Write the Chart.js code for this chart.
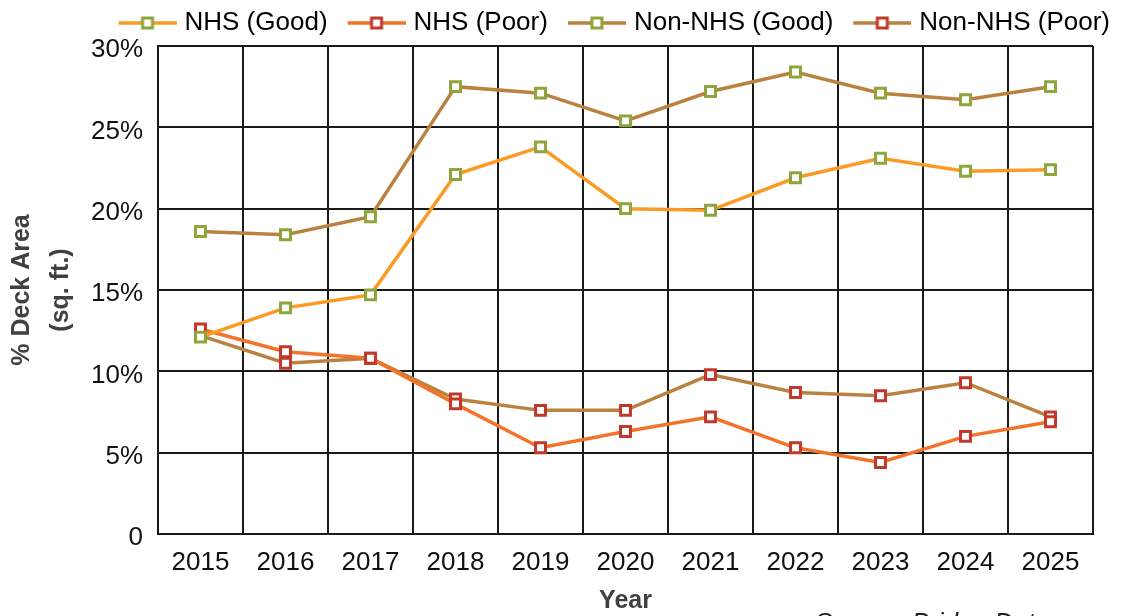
<!DOCTYPE html>
<html>
<head>
<meta charset="utf-8">
<script src="https://cdn.jsdelivr.net/npm/chart.js@4.4.1/dist/chart.umd.min.js"></script>
<style>
  body { margin: 0; background: #fff; }
  #wrap { width: 1126px; height: 616px; }
</style>
</head>
<body>
<div id="wrap"><canvas id="deck-chart" width="1126" height="616"></canvas></div>
<script>
// Chart data
const years = ['2015', '2016', '2017', '2018', '2019', '2020', '2021', '2022', '2023', '2024', '2025'];
const nhsGood = [12.1, 13.9, 14.7, 22.1, 23.8, 20.0, 19.9, 21.9, 23.1, 22.3, 22.4];
const nhsPoor = [12.6, 11.2, 10.8, 8.0, 5.3, 6.3, 7.2, 5.3, 4.4, 6.0, 6.9];
const nonNhsGood = [18.6, 18.4, 19.5, 27.5, 27.1, 25.4, 27.2, 28.4, 27.1, 26.7, 27.5];
const nonNhsPoor = [12.2, 10.5, 10.8, 8.3, 7.6, 7.6, 9.8, 8.7, 8.5, 9.3, 7.2];
const yTicks = [0, 5, 10, 15, 20, 25, 30];

const FONT = "'Liberation Sans', Arial, sans-serif";
const GREEN = '#8da53a';
const RED = '#c0392b';

// little line + square icon for the legend
function makeLegendIcon(lineColor, markerColor) {
    const c = document.createElement('canvas');
    c.width = 73;
    c.height = 16;
    const g = c.getContext('2d');
    g.strokeStyle = lineColor;
    g.lineWidth = 3.5;
    g.beginPath();
    g.moveTo(15, 8);
    g.lineTo(73, 8);
    g.stroke();
    g.fillStyle = '#fff';
    g.fillRect(39, 3, 10, 10);
    g.strokeStyle = markerColor;
    g.lineWidth = 3;
    g.strokeRect(39, 3, 10, 10);
    return c;
}

function series(label, data, lineColor, markerColor) {
    return {
        label: label,
        data: data,
        borderColor: lineColor,
        backgroundColor: lineColor,
        borderWidth: 3.5,
        pointStyle: 'rect',
        pointRadius: 7,
        pointBorderWidth: 3,
        pointBorderColor: markerColor,
        pointBackgroundColor: '#fff',
        tension: 0,
        legendIcon: makeLegendIcon(lineColor, markerColor)
    };
}

const sourceNote = {
    id: 'sourceNote',
    afterDraw(chart) {
        const ctx = chart.ctx;
        ctx.save();
        ctx.font = 'italic 26px ' + FONT;
        ctx.fillStyle = '#222';
        ctx.textBaseline = 'alphabetic';
        ctx.fillText('Source: Bridge Data', 815, 631);
        ctx.restore();
    }
};

const ctx = document.getElementById('deck-chart').getContext('2d');
new Chart(ctx, {
    type: 'line',
    data: {
        labels: years,
        datasets: [
            series('NHS (Good)', nhsGood, '#f99b25', GREEN),
            series('NHS (Poor)', nhsPoor, '#f3732a', RED),
            series('Non-NHS (Good)', nonNhsGood, '#b9823f', GREEN),
            series('Non-NHS (Poor)', nonNhsPoor, '#b9823f', RED)
        ]
    },
    options: {
        responsive: false,
        animation: false,
        layout: { padding: { left: 0, right: 6, top: 0, bottom: 0 } },
        plugins: {
            tooltip: { enabled: false },
            legend: {
                position: 'top',
                align: 'end',
                labels: {
                    color: '#111',
                    font: { family: FONT, size: 26 },
                    padding: 10,
                    usePointStyle: true,
                    pointStyleWidth: 63,
                    generateLabels(chart) {
                        return chart.data.datasets.map((ds, i) => ({
                            text: ds.label,
                            pointStyle: ds.legendIcon,
                            fillStyle: ds.borderColor,
                            strokeStyle: ds.borderColor,
                            lineWidth: 0,
                            hidden: false,
                            datasetIndex: i
                        }));
                    }
                }
            }
        },
        scales: {
            x: {
                offset: true,
                grid: { offset: true, color: '#1a1a1a', lineWidth: 2, drawTicks: false },
                border: { color: '#1a1a1a', width: 2 },
                ticks: { color: '#111', font: { family: FONT, size: 26 }, padding: 13 },
                title: {
                    display: true,
                    text: 'Year',
                    color: '#404040',
                    font: { family: FONT, size: 25, weight: 'bold', lineHeight: 1.2 },
                    padding: { top: 0, bottom: 0 }
                },
                afterFit(scale) { scale.height = 82; }
            },
            y: {
                min: 0,
                max: 30,
                afterBuildTicks(scale) {
                    scale.ticks = yTicks.map(v => ({ value: v }));
                },
                grid: { color: '#1a1a1a', lineWidth: 2, drawTicks: false },
                border: { color: '#1a1a1a', width: 2 },
                ticks: {
                    color: '#111',
                    font: { family: FONT, size: 26 },
                    padding: 15,
                    labelOffset: 4,
                    callback: v => v === 0 ? '0' : v + '%'
                },
                title: {
                    display: true,
                    text: ['% Deck Area', '(sq. ft.)'],
                    color: '#404040',
                    font: { family: FONT, size: 25, weight: 'bold', lineHeight: 1.55 },
                    padding: { top: 3, bottom: 0 }
                },
                afterFit(scale) { scale.width = 158; }
            },
            // empty right-hand axis, only keeps room between plot and edge
            yRight: {
                position: 'right',
                display: true,
                grid: { display: false },
                border: { display: false },
                ticks: { display: false },
                afterFit(scale) { scale.width = 27; }
            }
        }
    },
    plugins: [sourceNote]
});
</script>
</body>
</html>
